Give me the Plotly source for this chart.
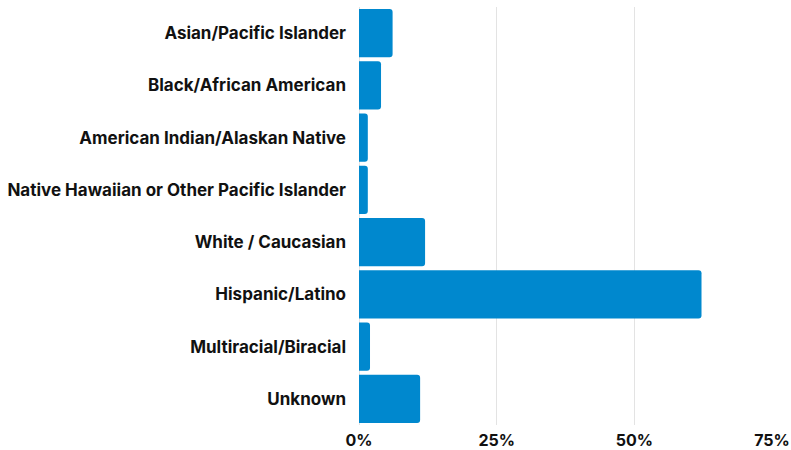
import plotly.graph_objects as go

categories = [
    "Asian/Pacific Islander",
    "Black/African American",
    "American Indian/Alaskan Native",
    "Native Hawaiian or Other Pacific Islander",
    "White / Caucasian",
    "Hispanic/Latino",
    "Multiracial/Biracial",
    "Unknown",
]
values = [6.1, 4.0, 1.6, 1.6, 12.0, 62.2, 2.0, 11.1]
tick_vals = [0, 25, 50, 75]
tick_text = ["0%", "25%", "50%", "75%"]

fig = go.Figure(
    go.Bar(
        x=values,
        y=categories,
        orientation="h",
        marker=dict(color="#0088CE", cornerradius=3, line=dict(width=0)),
        hovertemplate="%{y}: %{x}%<extra></extra>",
    )
)

font_family = "Inter, Roboto, sans-serif"
fig.update_layout(
    width=791,
    height=450,
    margin=dict(l=359, r=19, t=7, b=25, autoexpand=False),
    paper_bgcolor="white",
    plot_bgcolor="white",
    bargap=0.08,
    showlegend=False,
    font=dict(family=font_family, size=17, color="#111111"),
    xaxis=dict(
        range=[0, 75],
        tickvals=tick_vals,
        ticktext=tick_text,
        showgrid=True,
        gridcolor="#E3E3E3",
        gridwidth=1,
        zeroline=True,
        zerolinecolor="#E3E3E3",
        zerolinewidth=1,
        tickfont=dict(family=font_family, size=16, color="#111111", weight="bold"),
        ticks="",
        ticklabelstandoff=4,
        automargin=False,
        fixedrange=True,
    ),
    yaxis=dict(
        autorange="reversed",
        tickfont=dict(family=font_family, size=17, color="#111111", weight="bold"),
        ticks="",
        ticklabelstandoff=12,
        automargin=False,
        showgrid=False,
        fixedrange=True,
    ),
)

fig.write_html("out.html", config={"displayModeBar": False})

with open("out.html", "r", encoding="utf-8") as f:
    html = f.read()
html = html.replace("<body>", '<body style="margin:0;padding:0;overflow:hidden">', 1)
with open("out.html", "w", encoding="utf-8") as f:
    f.write(html)
